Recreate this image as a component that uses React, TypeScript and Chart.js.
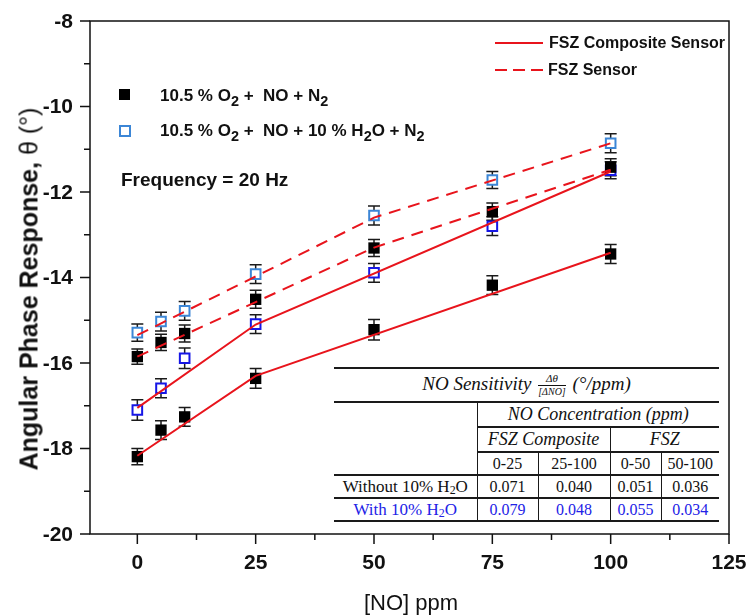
import React, { useEffect, useRef } from "react";
import { Chart, registerables } from "chart.js";

Chart.register(...registerables);

// ---------- data ----------
const NO_PPM = [0, 5, 10, 25, 50, 75, 100];
const COMPOSITE_DRY = [-18.19, -17.57, -17.26, -16.36, -15.22, -14.18, -13.45];
const COMPOSITE_WET = [-17.1, -16.59, -15.89, -15.09, -13.89, -12.8, -11.49];
const FSZ_DRY = [-15.85, -15.52, -15.31, -14.51, -13.31, -12.46, -11.42];
const FSZ_WET = [-15.29, -15.03, -14.78, -13.92, -12.55, -11.72, -10.86];

const ERR_COMPOSITE_DRY = [0.19, 0.22, 0.22, 0.23, 0.24, 0.22, 0.22];
const ERR_COMPOSITE_WET = [0.24, 0.22, 0.24, 0.22, 0.22, 0.22, 0.2];
const ERR_FSZ_DRY = [0.18, 0.19, 0.2, 0.21, 0.2, 0.2, 0.2];
const ERR_FSZ_WET = [0.2, 0.22, 0.22, 0.22, 0.22, 0.2, 0.22];

const FIT_COMPOSITE_X = [0, 25, 100];
const FIT_COMPOSITE_DRY = [-18.17, -16.3, -13.42];
const FIT_COMPOSITE_WET = [-17.05, -15.1, -11.52];
const FIT_FSZ_X = [0, 50, 100];
const FIT_FSZ_DRY = [-15.85, -13.3, -11.48];
const FIT_FSZ_WET = [-15.35, -12.6, -10.86];

const X_TICKS = [0, 25, 50, 75, 100, 125];
const X_MINOR = [12.5, 37.5, 62.5, 87.5, 112.5];
const Y_TICKS = [-20, -18, -16, -14, -12, -10, -8];
const Y_MINOR = [-19, -17, -15, -13, -11, -9];

const SENS_RANGES = ["0-25", "25-100", "0-50", "50-100"];
const SENS_DRY = ["0.071", "0.040", "0.051", "0.036"];
const SENS_WET = ["0.079", "0.048", "0.055", "0.034"];

// ---------- styles ----------
const RED = "#e8141c";
const DARK_BLUE = "#1616e6";
const LIGHT_BLUE = "#3c86d6";
const TABLE_BLUE = "#2222e6";
const INK = "#111";

const axesPlugin = {
  id: "axesFrame",
  afterDraw(chart: any) {
    const { ctx, chartArea: a } = chart;
    const xs = chart.scales.x;
    const ys = chart.scales.y;
    ctx.save();
    ctx.strokeStyle = INK;
    ctx.lineWidth = 1.5;
    ctx.strokeRect(a.left, a.top, a.right - a.left, a.bottom - a.top);
    ctx.beginPath();
    X_TICKS.forEach((v) => {
      const p = xs.getPixelForValue(v);
      ctx.moveTo(p, a.bottom);
      ctx.lineTo(p, a.bottom + 10);
    });
    X_MINOR.forEach((v) => {
      const p = xs.getPixelForValue(v);
      ctx.moveTo(p, a.bottom);
      ctx.lineTo(p, a.bottom + 6);
    });
    Y_TICKS.forEach((v) => {
      const p = ys.getPixelForValue(v);
      ctx.moveTo(a.left, p);
      ctx.lineTo(a.left - 10, p);
    });
    Y_MINOR.forEach((v) => {
      const p = ys.getPixelForValue(v);
      ctx.moveTo(a.left, p);
      ctx.lineTo(a.left - 6, p);
    });
    ctx.stroke();
    ctx.fillStyle = INK;
    ctx.font = 'bold 21px "Liberation Sans", Arial, sans-serif';
    ctx.textAlign = "center";
    ctx.textBaseline = "top";
    X_TICKS.forEach((v) => {
      ctx.fillText(String(v), xs.getPixelForValue(v), a.bottom + 19);
    });
    ctx.textAlign = "right";
    ctx.textBaseline = "middle";
    Y_TICKS.forEach((v) => {
      ctx.fillText(String(v), a.left - 17, ys.getPixelForValue(v) + 1);
    });
    ctx.restore();
  },
};

const errorBarPlugin = {
  id: "errorBars",
  beforeDatasetsDraw(chart: any) {
    const { ctx } = chart;
    const xs = chart.scales.x;
    const ys = chart.scales.y;
    ctx.save();
    ctx.strokeStyle = "#1a1a1a";
    ctx.lineWidth = 1.5;
    chart.data.datasets.forEach((ds: any) => {
      if (!ds.errors) return;
      ds.data.forEach((pt: any, i: number) => {
        const e = ds.errors[i];
        const px = xs.getPixelForValue(pt.x);
        const top = ys.getPixelForValue(pt.y + e);
        const bot = ys.getPixelForValue(pt.y - e);
        ctx.beginPath();
        ctx.moveTo(px, top);
        ctx.lineTo(px, bot);
        ctx.moveTo(px - 6, top);
        ctx.lineTo(px + 6, top);
        ctx.moveTo(px - 6, bot);
        ctx.lineTo(px + 6, bot);
        ctx.stroke();
      });
    });
    ctx.restore();
  },
};

const pts = (ys: number[]) => NO_PPM.map((x, i) => ({ x, y: ys[i] }));
const fit = (xs: number[], ys: number[]) => xs.map((x, i) => ({ x, y: ys[i] }));

const SANS = '"Liberation Sans", Arial, sans-serif';
const SERIF = '"Liberation Serif", "Times New Roman", serif';

const sub = (t: string, size = "0.85em", drop = "0.32em") => (
  <span style={{ fontSize: size, position: "relative", top: drop, lineHeight: 0 }}>{t}</span>
);

export default function App() {
  const ref = useRef<HTMLCanvasElement>(null);

  useEffect(() => {
    const canvas = ref.current;
    if (!canvas) return;
    const lineDs = (label: string, data: any[], dashed: boolean) => ({
      label,
      data,
      showLine: true,
      borderColor: RED,
      borderWidth: 2,
      borderDash: dashed ? [12, 8] : [],
      pointRadius: 0,
      fill: false,
    });
    const markerDs = (label: string, ys: number[], errs: number[], filled: boolean, color: string) =>
      ({
        label,
        data: pts(ys),
        errors: errs,
        pointStyle: "rect",
        pointRadius: filled ? 8 : 6.8,
        backgroundColor: filled ? color : "#fff",
        borderColor: color,
        borderWidth: filled ? 0 : 2,
        showLine: false,
      } as any);
    const chart = new Chart(canvas, {
      type: "scatter",
      data: {
        datasets: [
          lineDs("FSZ Composite Sensor, dry", fit(FIT_COMPOSITE_X, FIT_COMPOSITE_DRY), false),
          lineDs("FSZ Composite Sensor, 10% H2O", fit(FIT_COMPOSITE_X, FIT_COMPOSITE_WET), false),
          lineDs("FSZ Sensor, dry", fit(FIT_FSZ_X, FIT_FSZ_DRY), true),
          lineDs("FSZ Sensor, 10% H2O", fit(FIT_FSZ_X, FIT_FSZ_WET), true),
          markerDs("Composite, O2 + NO + N2", COMPOSITE_DRY, ERR_COMPOSITE_DRY, true, "#000"),
          markerDs("FSZ, O2 + NO + N2", FSZ_DRY, ERR_FSZ_DRY, true, "#000"),
          markerDs("Composite, O2 + NO + H2O + N2", COMPOSITE_WET, ERR_COMPOSITE_WET, false, DARK_BLUE),
          markerDs("FSZ, O2 + NO + H2O + N2", FSZ_WET, ERR_FSZ_WET, false, LIGHT_BLUE),
        ],
      },
      options: {
        animation: false,
        responsive: true,
        maintainAspectRatio: false,
        events: [],
        layout: { padding: { left: 90, right: 19, top: 21, bottom: 82 } },
        plugins: { legend: { display: false }, tooltip: { enabled: false } },
        scales: {
          x: { type: "linear", min: -10, max: 125, display: false },
          y: { type: "linear", min: -20, max: -8, display: false },
        },
      },
      plugins: [errorBarPlugin, axesPlugin],
    });
    return () => chart.destroy();
  }, []);

  const cell = (extra: any = {}) => ({
    padding: 0,
    textAlign: "center" as const,
    verticalAlign: "middle" as const,
    whiteSpace: "nowrap" as const,
    ...extra,
  });
  const HB = "2px solid #1a1a1a";
  const VB = "1.5px solid #1a1a1a";
  const HEAD = { fontStyle: "italic", fontSize: 18 };

  return (
    <div style={{ position: "absolute", left: 0, top: 0, width: 748, height: 616, background: "#fff", overflow: "hidden" }}>
      <canvas ref={ref} />

      {/* y axis title */}
      <div
        style={{
          position: "absolute",
          left: 29,
          top: 289,
          transform: "translate(-50%, -50%) rotate(-90deg)",
          whiteSpace: "nowrap",
          font: `bold 25px ${SANS}`,
          color: INK,
        }}
      >
        Angular Phase Response, <span style={{ fontWeight: "normal" }}>θ (°)</span>
      </div>

      {/* x axis title */}
      <div
        style={{
          position: "absolute",
          left: 411,
          top: 603,
          transform: "translate(-50%, -50%)",
          whiteSpace: "nowrap",
          font: `22px ${SANS}`,
          color: INK,
        }}
      >
        [NO] ppm
      </div>

      {/* marker legend */}
      <div style={{ position: "absolute", left: 119, top: 89, width: 11, height: 11, background: "#000" }} />
      <div style={{ position: "absolute", left: 160, top: 86, whiteSpace: "pre", font: `bold 17px ${SANS}`, color: INK, lineHeight: "20px" }}>
        10.5 % O{sub("2")} +  NO + N{sub("2")}
      </div>
      <div style={{ position: "absolute", left: 119, top: 125, width: 8, height: 8, border: `2px solid ${LIGHT_BLUE}`, background: "#fff" }} />
      <div style={{ position: "absolute", left: 160, top: 121, whiteSpace: "pre", font: `bold 17px ${SANS}`, color: INK, lineHeight: "20px" }}>
        10.5 % O{sub("2")} +  NO + 10 % H{sub("2")}O + N{sub("2")}
      </div>
      <div style={{ position: "absolute", left: 121, top: 169, whiteSpace: "pre", font: `bold 19px ${SANS}`, color: INK, lineHeight: "22px" }}>
        Frequency = 20 Hz
      </div>

      {/* line legend */}
      <div style={{ position: "absolute", left: 495, top: 42, width: 48, height: 2, background: RED }} />
      <div style={{ position: "absolute", left: 549, top: 33, whiteSpace: "pre", font: `bold 16px ${SANS}`, color: INK, lineHeight: "20px" }}>
        FSZ Composite Sensor
      </div>
      <div
        style={{
          position: "absolute",
          left: 495,
          top: 69,
          width: 48,
          height: 2,
          background: `repeating-linear-gradient(to right, ${RED} 0px, ${RED} 12px, transparent 12px, transparent 18px)`,
        }}
      />
      <div style={{ position: "absolute", left: 548, top: 60, whiteSpace: "pre", font: `bold 16px ${SANS}`, color: INK, lineHeight: "20px" }}>
        FSZ Sensor
      </div>

      {/* sensitivity table */}
      <table
        style={{
          position: "absolute",
          left: 334,
          top: 367,
          width: 385,
          borderCollapse: "collapse",
          tableLayout: "fixed",
          font: `16px ${SERIF}`,
          color: "#111",
          background: "#fff",
        }}
      >
        <colgroup>
          <col style={{ width: 143 }} />
          <col style={{ width: 61 }} />
          <col style={{ width: 72 }} />
          <col style={{ width: 51 }} />
          <col style={{ width: 58 }} />
        </colgroup>
        <tbody>
          <tr style={{ height: 34 }}>
            <td colSpan={5} style={cell({ borderTop: HB, borderBottom: HB, fontStyle: "italic", fontSize: 19 })}>
              NO Sensitivity{" "}
              <span style={{ display: "inline-flex", flexDirection: "column", alignItems: "center", verticalAlign: "middle", lineHeight: 1, margin: "0 2px" }}>
                <span style={{ fontSize: 11, paddingBottom: 1 }}>Δθ</span>
                <span style={{ fontSize: 10, borderTop: "1px solid #111", paddingTop: 1 }}>[ΔNO]</span>
              </span>{" "}
              (°/ppm)
            </td>
          </tr>
          <tr style={{ height: 25 }}>
            <td rowSpan={3} style={cell({ borderRight: VB, borderBottom: HB })}></td>
            <td colSpan={4} style={cell({ borderBottom: HB, ...HEAD })}>
              NO Concentration (ppm)
            </td>
          </tr>
          <tr style={{ height: 25 }}>
            <td colSpan={2} style={cell({ borderRight: VB, borderBottom: HB, ...HEAD })}>
              FSZ Composite
            </td>
            <td colSpan={2} style={cell({ borderBottom: HB, ...HEAD })}>
              FSZ
            </td>
          </tr>
          <tr style={{ height: 23 }}>
            {SENS_RANGES.map((r, i) => (
              <td key={r} style={cell({ borderRight: i < 3 ? VB : "none", borderBottom: HB })}>
                {r}
              </td>
            ))}
          </tr>
          <tr style={{ height: 23 }}>
            <td style={cell({ borderRight: VB, borderBottom: HB, fontSize: 17 })}>
              Without 10% H{sub("2", "0.7em", "0.25em")}O
            </td>
            {SENS_DRY.map((v, i) => (
              <td key={i} style={cell({ borderRight: i < 3 ? VB : "none", borderBottom: HB })}>
                {v}
              </td>
            ))}
          </tr>
          <tr style={{ height: 23, color: TABLE_BLUE }}>
            <td style={cell({ borderRight: VB, borderBottom: HB, fontSize: 17 })}>
              With 10% H{sub("2", "0.7em", "0.25em")}O
            </td>
            {SENS_WET.map((v, i) => (
              <td key={i} style={cell({ borderRight: i < 3 ? VB : "none", borderBottom: HB })}>
                {v}
              </td>
            ))}
          </tr>
        </tbody>
      </table>
    </div>
  );
}
